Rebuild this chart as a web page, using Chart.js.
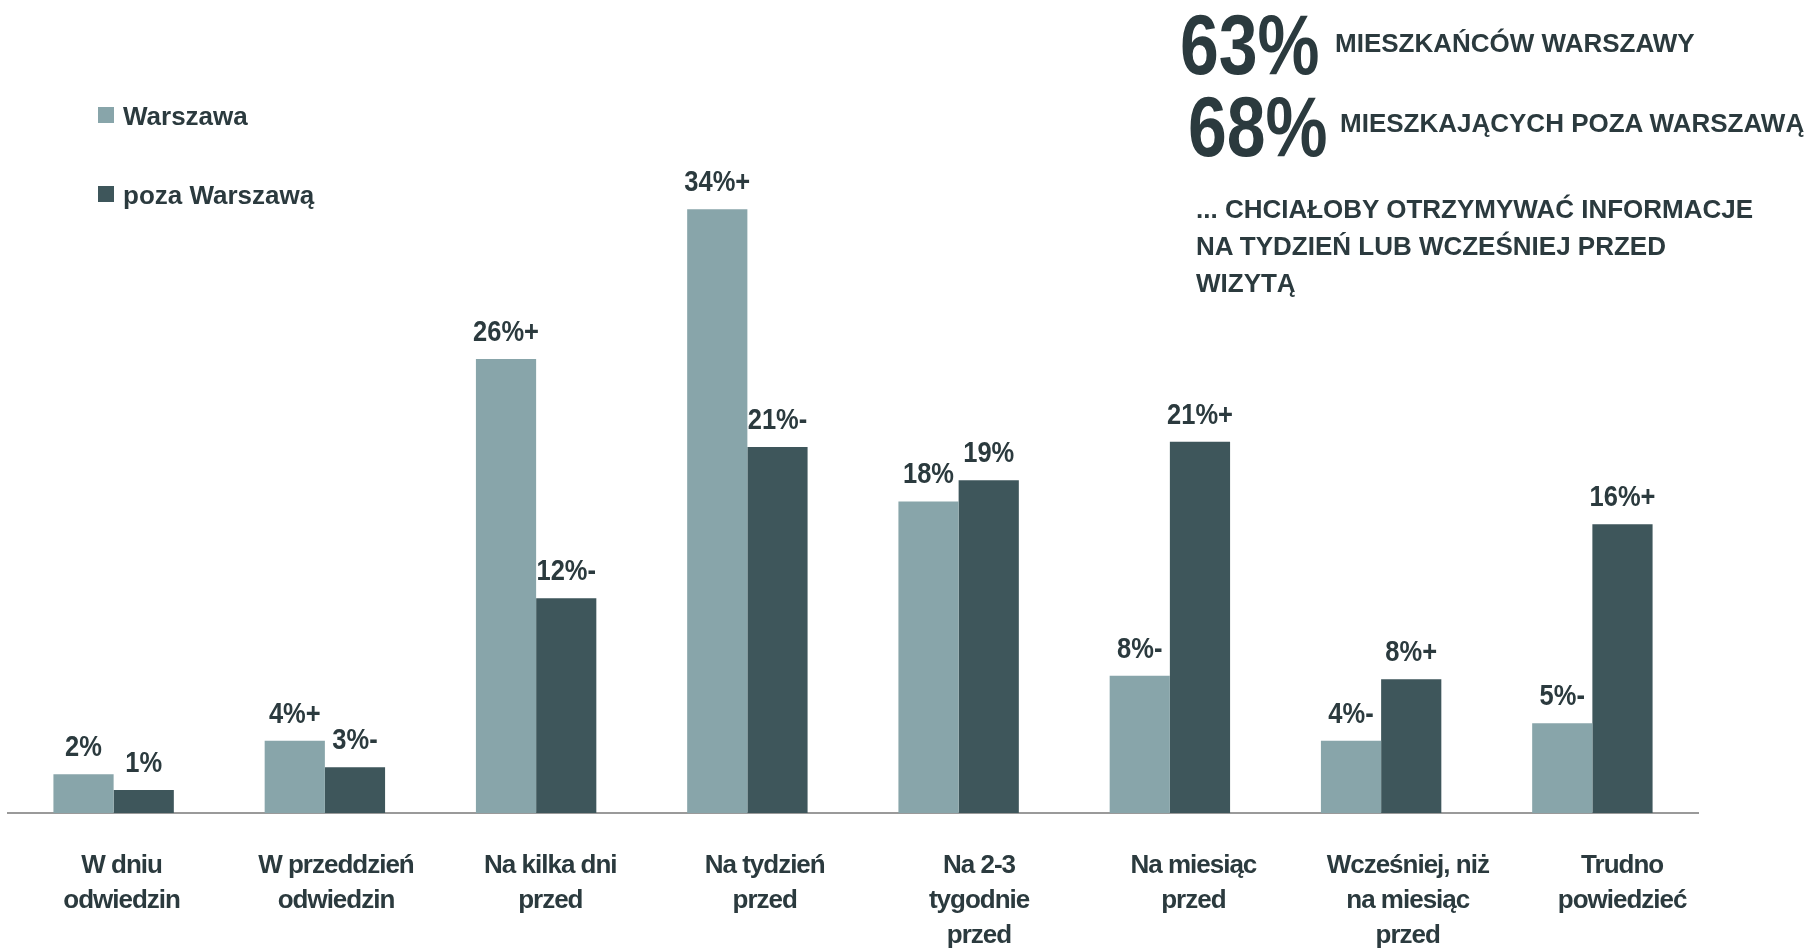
<!DOCTYPE html>
<html>
<head>
<meta charset="utf-8">
<script src="https://cdn.jsdelivr.net/npm/chart.js@4/dist/chart.umd.min.js"></script>
<style>
    body { margin: 0; background: #ffffff; }
    #wrap { position: relative; width: 1814px; height: 948px; overflow: hidden; }
    #chart { position: absolute; left: 0; top: 0; }
    .txt { position: absolute; white-space: nowrap; color: #2b3a3e; font-weight: bold; line-height: 1;
           font-family: "Liberation Sans", Arial, sans-serif; }
    .big { font-size: 85px; transform: scaleX(0.82); transform-origin: left top; }
    .caps { font-size: 26px; }
    .leg { font-size: 26px; }
    .box { position: absolute; width: 16px; height: 16px; }
</style>
</head>
<body>
<div id="wrap">
    <canvas id="chart" width="1814" height="948"></canvas>
    <div id="legend"></div>
    <div class="txt big" style="left:1180px; top:2px;">63%</div>
    <div class="txt caps" style="left:1335px; top:30px;">MIESZKAŃCÓW WARSZAWY</div>
    <div class="txt big" style="left:1188px; top:84px;">68%</div>
    <div class="txt caps" style="left:1340px; top:110px;">MIESZKAJĄCYCH POZA WARSZAWĄ</div>
    <div class="txt caps" style="left:1196px; top:191px; line-height:37px;">... CHCIAŁOBY OTRZYMYWAĆ INFORMACJE<br>NA TYDZIEŃ LUB WCZEŚNIEJ PRZED<br>WIZYTĄ</div>
</div>
<script>
// categories (multi line tick labels)
const categories = [
    ["W dniu", "odwiedzin"],
    ["W przeddzień", "odwiedzin"],
    ["Na kilka dni", "przed"],
    ["Na tydzień", "przed"],
    ["Na 2-3", "tygodnie", "przed"],
    ["Na miesiąc", "przed"],
    ["Wcześniej, niż", "na miesiąc", "przed"],
    ["Trudno", "powiedzieć"]
];

const seriesNames = ["Warszawa", "poza Warszawą"];
const seriesColors = ["#88a5aa", "#3e565b"];

// values (%)
const warszawa = [2.2, 4.1, 25.8, 34.3, 17.7, 7.8, 4.1, 5.1];
const pozaWarszawa = [1.3, 2.6, 12.2, 20.8, 18.9, 21.1, 7.6, 16.4];

// labels printed above the bars
const warszawaLabels = ["2%", "4%+", "26%+", "34%+", "18%", "8%-", "4%-", "5%-"];
const pozaLabels = ["1%", "3%-", "12%-", "21%-", "19%", "21%+", "8%+", "16%+"];

const textColor = "#2b3a3e";
const fontFamily = "'Liberation Sans', Arial, sans-serif";

// narrow look for the tick labels (no condensed font installed)
const tightText = {
    id: "tightText",
    beforeDraw(chart) {
        chart.ctx.letterSpacing = "-1px";
    },
    afterDraw(chart) {
        chart.ctx.letterSpacing = "0px";
    }
};

// draws the value labels above each bar, squeezed horizontally
const barLabels = {
    id: "barLabels",
    afterDatasetsDraw(chart) {
        const ctx = chart.ctx;
        const allLabels = [warszawaLabels, pozaLabels];
        for (let d = 0; d < chart.data.datasets.length; d++) {
            let meta = chart.getDatasetMeta(d);
            meta.data.forEach((bar, i) => {
                ctx.save();
                ctx.letterSpacing = "0px";
                ctx.font = "bold 30px " + fontFamily;
                ctx.fillStyle = textColor;
                ctx.textAlign = "center";
                ctx.textBaseline = "alphabetic";
                ctx.translate(bar.x, bar.y - 18);
                ctx.scale(0.85, 1);
                ctx.fillText(allLabels[d][i], 0, 0);
                ctx.restore();
            });
        }
    }
};

function createDataset(label, data, color) {
    let dataset = {
        label: label,
        data: data,
        backgroundColor: color,
        borderWidth: 0,
        categoryPercentage: 0.57,
        barPercentage: 1.0
    }
    return dataset;
}

function buildLegend(chart) {
    let legend = document.getElementById("legend");
    let rows = [103, 182];
    chart.data.datasets.forEach((ds, i) => {
        let box = document.createElement("div");
        box.className = "box";
        box.style.left = "98px";
        box.style.top = (rows[i] + 4) + "px";
        box.style.background = ds.backgroundColor;
        legend.appendChild(box);
        let t = document.createElement("div");
        t.className = "txt leg";
        t.style.left = "123px";
        t.style.top = rows[i] + "px";
        t.textContent = ds.label;
        legend.appendChild(t);
    });
}

const ctx = document.getElementById("chart").getContext("2d");
const chart = new Chart(ctx, {
    type: "bar",
    data: {
        labels: categories,
        datasets: [
            createDataset(seriesNames[0], warszawa, seriesColors[0]),
            createDataset(seriesNames[1], pozaWarszawa, seriesColors[1])
        ]
    },
    options: {
        responsive: false,
        animation: false,
        layout: { padding: { top: 109, left: 8, right: 116, bottom: 0 } },
        plugins: {
            legend: { display: false },
            tooltip: { enabled: false }
        },
        scales: {
            // bar axis: only the base line
            x: {
                grid: { display: false, drawTicks: false },
                border: { display: true, color: "#9a9a9a", width: 2 },
                ticks: { display: false },
                afterFit: (scale) => { scale.height = 0; }
            },
            // the category texts sit a bit wider apart than the bars in the original
            xLabels: {
                type: "linear",
                position: "bottom",
                offset: false,
                bounds: "data",
                min: -0.53,
                max: 7.354,
                grid: { display: false, drawTicks: false, offset: false },
                border: { display: false },
                afterBuildTicks: (scale) => {
                    scale.ticks = categories.map((c, i) => ({ value: i }));
                },
                ticks: {
                    color: textColor,
                    padding: 35,
                    maxRotation: 0,
                    autoSkip: false,
                    callback: (value) => categories[value],
                    font: { family: fontFamily, size: 26, weight: "bold", lineHeight: 1.35 }
                },
                afterFit: (scale) => { scale.height = 135; }
            },
            y: {
                display: false,
                min: 0,
                max: 40
            }
        }
    },
    plugins: [tightText, barLabels]
});

buildLegend(chart);
</script>
</body>
</html>
